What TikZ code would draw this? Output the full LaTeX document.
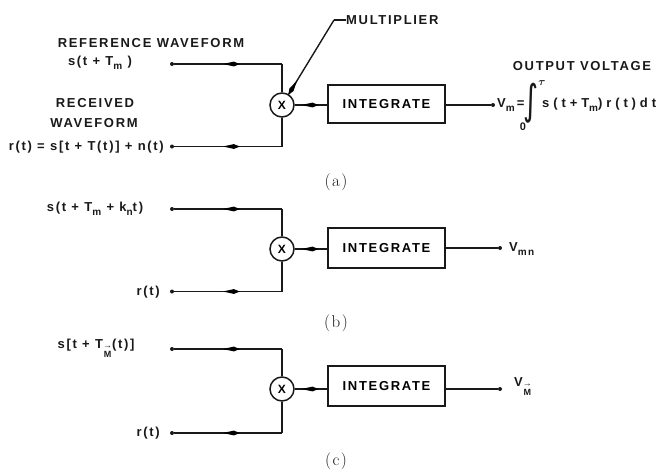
\documentclass[tikz,border=0pt]{standalone}
\usepackage{fontspec}
\usepackage{amsmath}
\usepackage{graphicx}
\newfontfamily\lbl[LetterSpace=13]{Liberation Sans}
\newfontfamily\lblw[LetterSpace=30]{Liberation Sans}
\newfontfamily\intfont{DejaVu Sans}
\usetikzlibrary{arrows.meta,decorations.markings}
\newcommand\sbs[1]{\raisebox{-0.5ex}{\fontsize{10}{10}\selectfont #1}}
\newcommand\vecM{\raisebox{-9pt}{\fontsize{9}{7}\selectfont\bfseries\shortstack{→\\M}}}
\newcommand\spindle{\fill (-16pt,0pt) .. controls (-10pt,1.6pt) .. (-5pt,2.4pt) -- (1pt,0pt) -- (-5pt,-2.4pt) .. controls (-10pt,-1.6pt) .. (-16pt,0pt) -- cycle;}
\begin{document}
\begin{tikzpicture}[x=1pt,y=-1pt,
  wire/.style={line width=1.4pt, draw=black!90},
  pdot/.style={circle, fill=black!90, inner sep=0pt, minimum size=4pt},
  mulc/.style={circle, draw=black!90, line width=1.5pt, minimum size=24pt, inner sep=0pt, font=\lbl\bfseries\fontsize{12}{12}\selectfont},
  intbox/.style={draw=black!90, line width=1.5pt, minimum width=117pt, minimum height=38pt, inner sep=0pt, font=\lbl\bfseries\fontsize{13}{13}\selectfont},
  lab/.style={font=\lbl\bfseries\fontsize{13}{14}\selectfont, inner sep=0pt, text=black!90},
  labw/.style={font=\lblw\bfseries\fontsize{13}{14}\selectfont, inner sep=0pt, text=black!90},
  captxt/.style={font=\fontsize{17}{18}\selectfont, inner sep=0pt, text=black!90},
  midarr/.style={postaction={decorate}, decoration={markings, mark=at position #1 with {\spindle}}}]
\useasboundingbox (0,0) rectangle (665,472);

% ---------- (a) ----------
\node[lab] (refw) at (151,43) {REFERENCE WAVEFORM};
\node[lab] (refs) at (100,63) {s(t + T\sbs{m} )};
\node[lab] (recv1) at (95,103) {RECEIVED};
\node[lab] (recv2) at (94,123) {WAVEFORM};
\node[lab, anchor=east] (recr) at (164,147) {r(t) = s[t + T(t)] + n(t)};
\node[pdot] (a1) at (172,64) {};
\node[pdot] (a2) at (172,146.5) {};
\node[mulc] (ma) at (282,105) {X};
\coordinate (a1c) at (282,64);
\coordinate (a2c) at (282,146.5);
\draw[wire, midarr=0.6] (a1) -- (a1c);
\draw[wire] (a1c) -- (ma.north);
\draw[wire, midarr=0.6] (a2) -- (a2c);
\draw[wire] (a2c) -- (ma.south);
\node[intbox] (ia) at (386.5,104) {INTEGRATE};
\draw[wire, midarr=0.7] (ma.east) -- (ma.east -| ia.west);
\node[pdot] (oa) at (493,105) {};
\draw[wire] (oa -| ia.east) -- (oa);
\node[lab, anchor=west] (va) at (497,105) {V\sbs{m}\hspace{2pt}=};
\node[inner sep=0pt, text=black!90] (intg) at (531,103) {\scalebox{1.6}[2.3]{\intfont\fontsize{18}{18}\selectfont ∫}};
\node[lab, font=\fontsize{11}{11}\selectfont] (tau) at (542,83) {$\boldsymbol{\tau}$};
\node[lab, font=\lbl\bfseries\fontsize{11}{11}\selectfont] (zero) at (523,127) {0};
\node[labw, anchor=west] (vint) at (542,105) {s(t+T\sbs{m})r(t)dt};
\node[lab] (ov) at (582,66) {OUTPUT VOLTAGE};
\node[lab, anchor=west] (ml) at (346,20) {MULTIPLIER};
\coordinate (mlc) at (334,20);
\draw[wire] (ml.west) -- (mlc);
\draw[wire, midarr=1] (mlc) -- (ma.58);
\node[captxt] (capa) at (336,182) {(\hspace{1.5pt}a\hspace{1.5pt})};

% ---------- (b) ----------
\node[lab] (bs) at (95,209) {s(t + T\sbs{m} + k\sbs{n}t)};
\node[lab, anchor=east] (br) at (160,292) {r(t)};
\node[pdot] (b1) at (172,209) {};
\node[pdot] (b2) at (172,291.5) {};
\node[mulc] (mb) at (282,249) {X};
\coordinate (b1c) at (282,209);
\coordinate (b2c) at (282,291.5);
\draw[wire, midarr=0.6] (b1) -- (b1c);
\draw[wire] (b1c) -- (mb.north);
\draw[wire, midarr=0.6] (b2) -- (b2c);
\draw[wire] (b2c) -- (mb.south);
\node[intbox, minimum height=40pt] (ib) at (386.5,248) {INTEGRATE};
\draw[wire, midarr=0.7] (mb.east) -- (mb.east -| ib.west);
\node[pdot] (ob) at (500,248) {};
\draw[wire] (ob -| ib.east) -- (ob);
\node[lab, anchor=west] (vb) at (509,249) {V\sbs{mn}};
\node[captxt] (capb) at (336,323) {(\hspace{1.5pt}b\hspace{1.5pt})};

% ---------- (c) ----------
\node[lab] (cs) at (96,348) {s[t + T\vecM(t)]};
\node[lab, anchor=east] (cr) at (160,433) {r(t)};
\node[pdot] (c1) at (172,349) {};
\node[pdot] (c2) at (172,433) {};
\node[mulc] (mc) at (282,389) {X};
\coordinate (c1c) at (282,349);
\coordinate (c2c) at (282,433);
\draw[wire, midarr=0.6] (c1) -- (c1c);
\draw[wire] (c1c) -- (mc.north);
\draw[wire, midarr=0.6] (c2) -- (c2c);
\draw[wire] (c2c) -- (mc.south);
\node[intbox, minimum height=40pt] (ic) at (386.5,386) {INTEGRATE};
\draw[wire, midarr=0.7] (mc.east) -- (mc.east -| ic.west);
\node[pdot] (oc) at (500,389) {};
\draw[wire] (oc -| ic.east) -- (oc);
\node[lab, anchor=west] (vc) at (514,387) {V\vecM};
\node[captxt] (capc) at (336,461) {(\hspace{1.5pt}c\hspace{1.5pt})};
\end{tikzpicture}
\end{document}
